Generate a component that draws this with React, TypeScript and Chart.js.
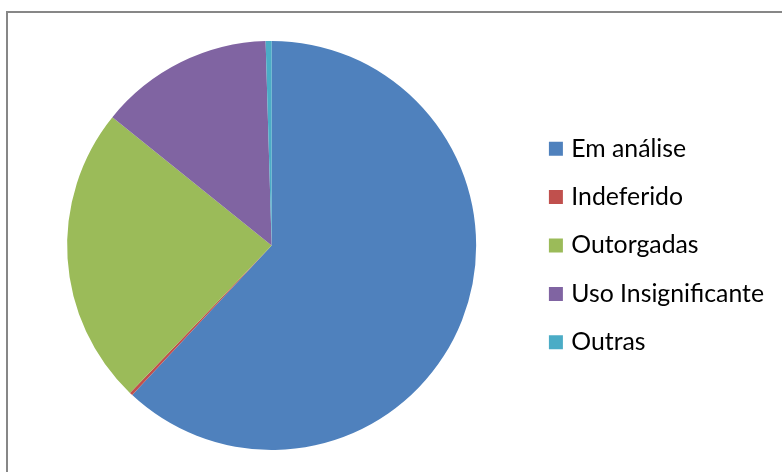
import React, { useEffect, useRef } from "react";
import { Chart, registerables } from "chart.js";

Chart.register(...registerables);

const categories = ["Em análise", "Indeferido", "Outorgadas", "Uso Insignificante", "Outras"];
const values = [61.94, 0.25, 23.6, 13.74, 0.47];
const colors = ["#4F81BD", "#C0504D", "#9BBB59", "#8064A2", "#4BACC6"];

export default function App() {
  const ref = useRef<HTMLCanvasElement | null>(null);

  useEffect(() => {
    if (!ref.current) return;
    const baseGenerate = (Chart as any).overrides.pie.plugins.legend.labels.generateLabels;
    const chart = new Chart(ref.current, {
      type: "pie",
      data: {
        labels: categories,
        datasets: [
          {
            data: values,
            backgroundColor: colors,
            borderWidth: 0,
          },
        ],
      },
      options: {
        animation: false,
        responsive: false,
        devicePixelRatio: 1,
        layout: { padding: 0 },
        plugins: {
          legend: {
            position: "right",
            labels: {
              boxWidth: 6,
              boxHeight: 6,
              padding: 23.6,
              color: "#000000",
              font: { family: "Lato", size: 24.8 },
              generateLabels: (c: any) =>
                baseGenerate(c).map((item: any) => ({
                  ...item,
                  strokeStyle: item.fillStyle,
                  lineWidth: 8,
                  lineJoin: "miter",
                  borderRadius: 0,
                })),
            },
          },
          tooltip: { enabled: false },
        },
      },
    });
    return () => chart.destroy();
  }, []);

  return (
    <div
      style={{
        position: "fixed",
        left: 0,
        top: 0,
        width: 782,
        height: 472,
        overflow: "hidden",
        background: "#ffffff",
      }}
    >
      <div
        style={{
          position: "absolute",
          left: 6,
          top: 11,
          width: 900,
          height: 600,
          border: "2px solid #878787",
          boxSizing: "border-box",
        }}
      />
      <canvas
        ref={ref}
        width={760}
        height={409}
        style={{ position: "absolute", left: 14, top: 41, width: 760, height: 409 }}
      />
    </div>
  );
}
